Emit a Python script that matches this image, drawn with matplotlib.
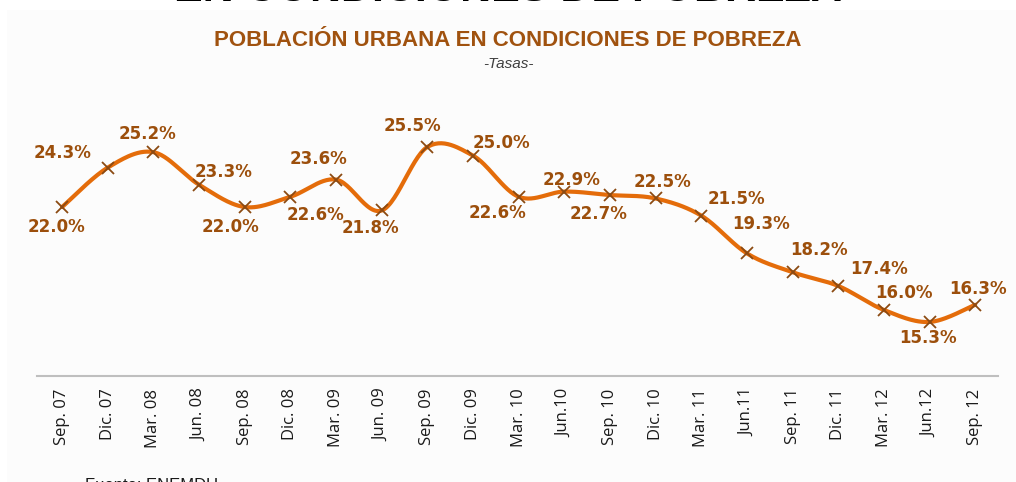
"""
Poblacion urbana en condiciones de pobreza - tasas trimestrales 2007-2012
Smoothed line with x markers and percentage labels, Excel-like styling.
"""

import numpy as np
import matplotlib.pyplot as plt
from matplotlib.patches import Rectangle


# Data
periods = ["Sep. 07", "Dic. 07", "Mar. 08", "Jun. 08", "Sep. 08", "Dic. 08",
           "Mar. 09", "Jun. 09", "Sep. 09", "Dic. 09", "Mar. 10", "Jun.10",
           "Sep. 10", "Dic. 10", "Mar. 11", "Jun.11", "Sep. 11", "Dic. 11",
           "Mar. 12", "Jun.12", "Sep. 12"]
rates = [22.0, 24.3, 25.2, 23.3, 22.0, 22.6, 23.6, 21.8, 25.5, 25.0, 22.6,
         22.9, 22.7, 22.5, 21.5, 19.3, 18.2, 17.4, 16.0, 15.3, 16.3]

# label offsets in pixels (dx, dy)
label_offsets = [(-6, -20), (-45, 15), (-6, 18), (24, 13), (-14, -20),
                 (25, -18), (-18, 21), (-11, -18), (-15, 21), (28, 13),
                 (-21, -16), (7, 12), (-11, -19), (7, 16), (35, 17),
                 (14, 29), (26, 22), (41, 17), (20, 17), (-2, -16), (3, 16)]

LINE = "#E46C0A"
MARK = "#8B4A12"
LABEL = "#9C4F0C"


def smooth_curve(x, y, n=30):
    # Catmull-Rom style smoothing like Excel "smoothed line"
    x = np.asarray(x, float)
    y = np.asarray(y, float)
    xs, ys = [], []
    for i in range(len(x) - 1):
        p0 = (x[max(i - 1, 0)], y[max(i - 1, 0)])
        p1 = (x[i], y[i])
        p2 = (x[i + 1], y[i + 1])
        p3 = (x[min(i + 2, len(x) - 1)], y[min(i + 2, len(x) - 1)])
        c1 = (p1[0] + (p2[0] - p0[0]) / 6, p1[1] + (p2[1] - p0[1]) / 6)
        c2 = (p2[0] - (p3[0] - p1[0]) / 6, p2[1] - (p3[1] - p1[1]) / 6)
        t = np.linspace(0, 1, n)
        for k in range(2):
            pts = ((1 - t) ** 3 * p1[k] + 3 * (1 - t) ** 2 * t * c1[k]
                   + 3 * (1 - t) * t ** 2 * c2[k] + t ** 3 * p2[k])
            (xs if k == 0 else ys).append(pts)
    return np.concatenate(xs), np.concatenate(ys)


W, H = 1016, 482
fig = plt.figure(figsize=(W / 100, H / 100), dpi=100)

# faint panel background
fig.patches.append(Rectangle((7 / W, 0), 1, 1 - 10 / H, transform=fig.transFigure,
                             facecolor="#FCFCFC", edgecolor="none", zorder=-5))

ax = fig.add_axes([37 / W, (H - 376) / H, (998 - 37) / W, (376 - 100) / H])
ax.set_facecolor("none")
ax.set_zorder(2)

x = np.arange(len(rates))
sx, sy = smooth_curve(x, rates)
ax.plot(sx, sy, color=LINE, lw=3, solid_capstyle="round", zorder=2)
ax.plot(x, rates, ls="none", marker="x", ms=8, mew=1.3, color=MARK, zorder=3)

for xi, v, (dx, dy) in zip(x, rates, label_offsets):
    ax.annotate(f"{v:.1f}%", (xi, v), xytext=(dx, dy), textcoords="offset pixels",
                ha="center", va="center", fontsize=12, fontweight="bold",
                color=LABEL, family="DejaVu Sans")

ax.set_xlim(-0.55, 20.5)
ax.set_ylim(12.15, 28.24)
ax.set_yticks([])
ax.set_xticks(x)
ax.set_xticklabels(periods, rotation=90, fontsize=12, family="Open Sans",
                   color="#1A1A1A")
ax.tick_params(axis="x", length=0, pad=9)
for s in ["top", "right", "left"]:
    ax.spines[s].set_visible(False)
ax.spines["bottom"].set_color("#BFBFBF")
ax.spines["bottom"].set_linewidth(1.5)

# titles
fig.text(0.5, 1 - 40 / H, "POBLACIÓN URBANA EN CONDICIONES DE POBREZA",
         ha="center", va="center", fontsize=16, fontweight="bold",
         color="#A0520F", family="Liberation Sans")
fig.text(0.5, 1 - 64 / H, "-Tasas-", ha="center", va="center", fontsize=11,
         style="italic", color="#404040", family="Liberation Sans")

# cut-off heading at top and source note at bottom
fig.text(0.5, 1 - 1 / H, "EN CONDICIONES DE POBREZA", ha="center",
         va="baseline", fontsize=31, fontweight="bold", color="black",
         family="Liberation Sans")
fig.text(85 / W, -8 / H, "Fuente: ENEMDU", ha="left", va="baseline",
         fontsize=12, color="#1A1A1A", family="Liberation Sans")

fig.savefig("out.png", dpi=100)
